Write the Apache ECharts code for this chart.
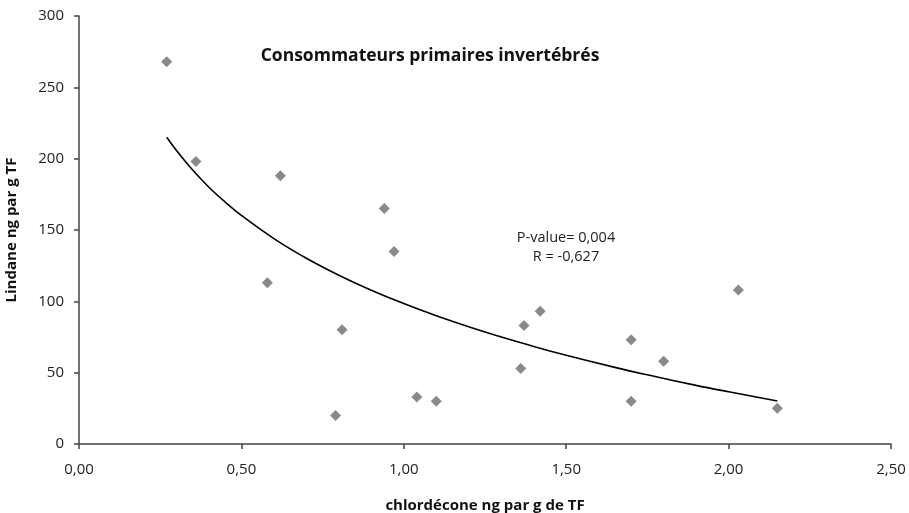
<!DOCTYPE html>
<html>
<head>
<meta charset="utf-8">
<script src="https://cdn.jsdelivr.net/npm/echarts@6/dist/echarts.min.js"></script>
<style>
  html, body { margin: 0; padding: 0; background: #fff; }
  #chart { width: 909px; height: 513px; }
</style>
</head>
<body>
<div id="chart"></div>
<script>
// points: [chlordécone, lindane]
const samples = [
  [0.27, 268], [0.36, 198], [0.62, 188], [0.58, 113], [0.81, 80],
  [0.79, 20], [0.94, 165], [0.97, 135], [1.04, 33], [1.10, 30],
  [1.37, 83], [1.42, 93], [1.36, 53], [1.70, 73], [1.70, 30],
  [1.80, 58], [2.03, 108], [2.15, 25]
]

// trend curve, read at a few spots along the drawn line
const trendX = [0.27, 0.3, 0.35, 0.4, 0.45, 0.5, 0.6, 0.7, 0.8, 0.9, 1.0, 1.1, 1.25, 1.4, 1.5, 1.65, 1.75, 1.9, 2.0, 2.15]
const trendY = [215, 205.8, 192, 180, 169.6, 160.2, 144, 130.2, 118.3, 107.8, 98.4, 89.9, 78.5, 68.4, 62.2, 53.7, 48.5, 41.1, 36.6, 30.1]

const xTicks = { min: 0, max: 2.5, step: 0.5 }
const yTicks = { min: 0, max: 300, step: 50 }

const stats = ["P-value= 0,004", "R = -0,627"]

const font = "'Open Sans', 'Noto Sans', sans-serif"
const chart = echarts.init(document.getElementById("chart"))

chart.setOption({
  animation: false,
  textStyle: { fontFamily: font },
  title: {
    text: "Consommateurs primaires invertébrés",
    left: 425,
    top: 42,
    textAlign: "center",
    textStyle: { fontSize: 17.5, fontWeight: "bold", color: "#111", fontFamily: font },
  },
  grid: { left: 79, right: 18, top: 16, bottom: 69, outerBoundsMode: "none" },
  graphic: stats.map((t, i) => ({
    type: "text",
    x: 566,
    y: 238 + i * 19,
    style: {
      text: t,
      align: "center",
      verticalAlign: "middle",
      fill: "#222",
      font: "14.5px " + font,
    },
  })),
  xAxis: {
    type: "value",
    min: xTicks.min,
    max: xTicks.max,
    interval: xTicks.step,
    name: "chlordécone ng par g de TF",
    nameLocation: "middle",
    nameGap: 54,
    nameTextStyle: { fontSize: 15, fontWeight: "bold", color: "#111" },
    axisLine: { lineStyle: { color: "#444", width: 1.5 } },
    axisTick: { show: true, length: 5, lineStyle: { color: "#444", width: 1.5 } },
    axisLabel: {
      fontSize: 15,
      color: "#222",
      margin: 18,
      formatter: (v) => v.toFixed(2).replace(".", ","),
    },
    splitLine: { show: false },
  },
  yAxis: {
    type: "value",
    min: yTicks.min,
    max: yTicks.max,
    interval: yTicks.step,
    name: "Lindane ng par g TF",
    nameLocation: "middle",
    nameGap: 60,
    nameTextStyle: { fontSize: 15, fontWeight: "bold", color: "#111" },
    axisLine: { show: true, lineStyle: { color: "#444", width: 1.5 } },
    axisTick: { show: true, length: 5, lineStyle: { color: "#444", width: 1.5 } },
    axisLabel: { fontSize: 15, color: "#222", margin: 15 },
    splitLine: { show: false },
  },
  series: [
    {
      name: "samples",
      type: "scatter",
      symbol: "diamond",
      symbolSize: 11,
      itemStyle: { color: "#6b6b6b" },
      data: samples,
    },
    {
      name: "trend",
      type: "line",
      smooth: 0.4,
      showSymbol: false,
      lineStyle: { color: "#000", width: 1.6 },
      data: trendX.map((x, i) => [x, trendY[i]]),
    },
  ],
})
</script>
</body>
</html>
